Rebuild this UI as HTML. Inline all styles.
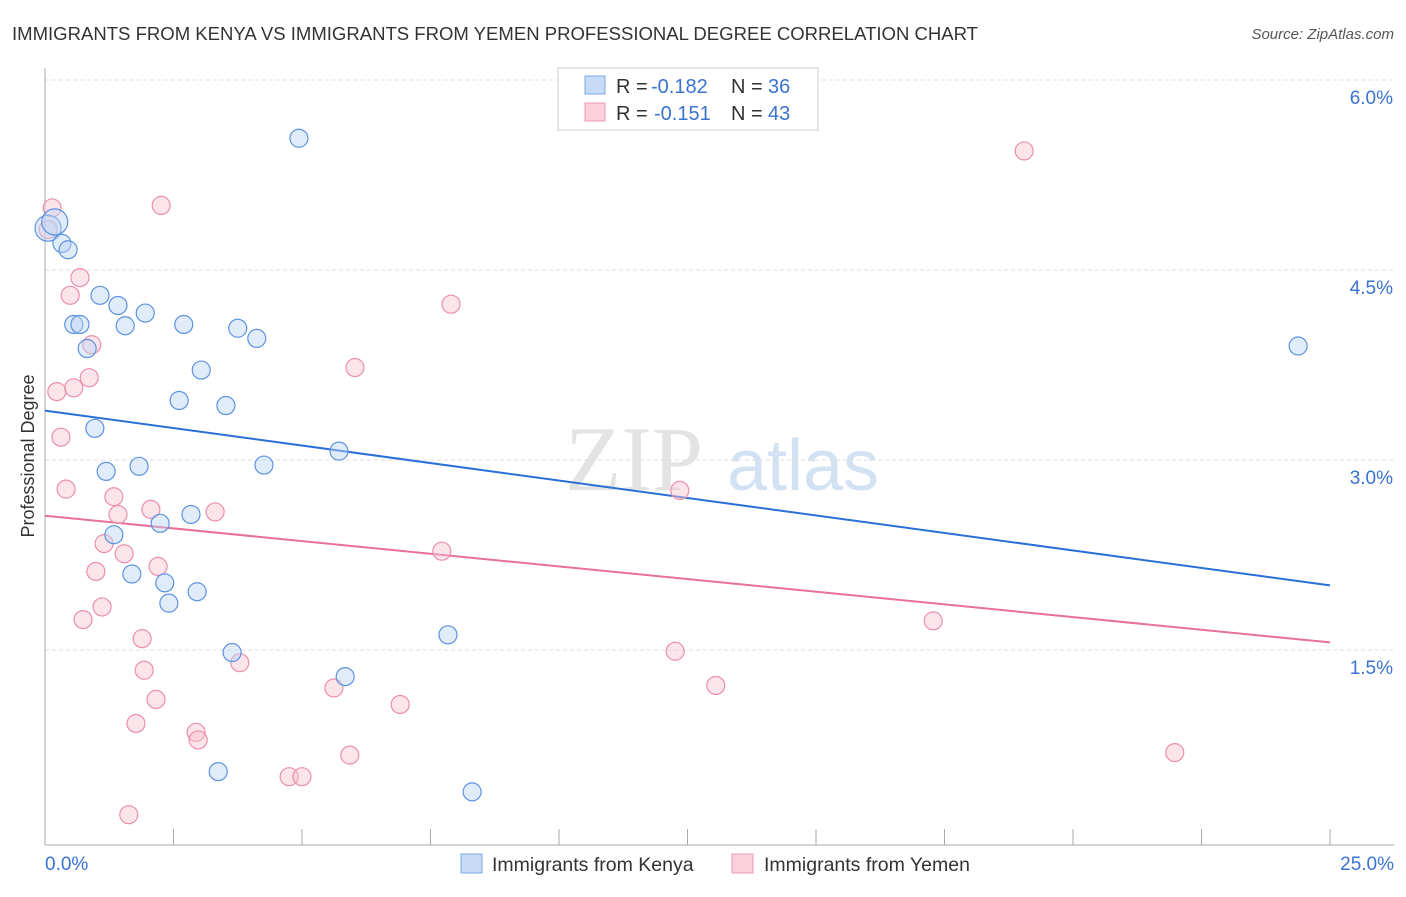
<!DOCTYPE html>
<html><head><meta charset="utf-8"><style>
body{margin:0;background:#fff;font-family:"Liberation Sans",sans-serif;}
</style></head><body>
<svg width="1406" height="892" xmlns="http://www.w3.org/2000/svg" font-family="Liberation Sans, sans-serif">
<text x="12" y="40" font-size="18" fill="#333" textLength="966" lengthAdjust="spacingAndGlyphs">IMMIGRANTS FROM KENYA VS IMMIGRANTS FROM YEMEN PROFESSIONAL DEGREE CORRELATION CHART</text>
<text x="1394" y="39" font-size="15" fill="#555" font-style="italic" text-anchor="end">Source: ZipAtlas.com</text>
<g>
<text x="634" y="490" font-size="92" fill="#ddd" font-family="Liberation Serif, serif" text-anchor="middle" opacity="0.8">ZIP</text>
<text x="803" y="490" font-size="72" fill="#c9dbf0" text-anchor="middle" opacity="0.8">atlas</text>
</g>
<g id="grid"></g>
<line x1="45" y1="68" x2="45" y2="845" stroke="#aaa" stroke-width="1"/>
<line x1="45" y1="845" x2="1394" y2="845" stroke="#aaa" stroke-width="1"/>
<g id="ticks"></g>
<text transform="translate(34,456) rotate(-90)" font-size="18" fill="#333" text-anchor="middle">Professional Degree</text>
<text x="45" y="870" font-size="19" fill="#3a73d0">0.0%</text>
<text x="1394" y="870" font-size="19" fill="#3a73d0" text-anchor="end">25.0%</text>
<g id="trend"></g>
<g id="points"></g>
<g>
<rect x="558" y="68" width="260" height="62" fill="#fff" stroke="#ccc"/>
<rect x="585" y="76" width="20" height="18" fill="#c7dbf7" stroke="#7ba7e6"/>
<rect x="585" y="103" width="20" height="18" fill="#fbd0dc" stroke="#ef9ab3"/>
<text x="616" y="93" font-size="20" fill="#333">R =</text>
<text x="651" y="93" font-size="20" fill="#3a73d0">-0.182</text>
<text x="731" y="93" font-size="20" fill="#333">N =</text>
<text x="768" y="93" font-size="20" fill="#3a73d0">36</text>
<text x="616" y="120" font-size="20" fill="#333">R =</text>
<text x="654" y="120" font-size="20" fill="#3a73d0">-0.151</text>
<text x="731" y="120" font-size="20" fill="#333">N =</text>
<text x="768" y="120" font-size="20" fill="#3a73d0">43</text>
</g>
<g>
<rect x="461" y="854" width="21" height="19" fill="#c7dbf7" stroke="#7ba7e6"/>
<text x="492" y="871" font-size="19.5" fill="#333">Immigrants from Kenya</text>
<rect x="732" y="854" width="21" height="19" fill="#fbd0dc" stroke="#ef9ab3"/>
<text x="764" y="871" font-size="19.5" fill="#333">Immigrants from Yemen</text>
</g>
</svg>
<script>
const yTicks=[1.5,3.0,4.5,6.0];
const yTickLabels=["1.5%","3.0%","4.5%","6.0%"];
const xTicks=[0,2.5,5,7.5,10,12.5,15,17.5,20,22.5,25];
const kenyaX=[0.06,0.19,0.33,0.45,4.94,1.07,1.42,1.95,0.56,0.68,1.56,2.70,3.75,4.12,0.82,3.04,2.61,3.52,0.97,24.38,1.19,1.83,4.26,5.72,2.84,2.24,1.34,1.69,2.33,2.41,2.96,7.84,3.64,5.84,3.37,8.31];
const kenyaY=[4.83,4.88,4.71,4.66,5.54,4.30,4.22,4.16,4.07,4.07,4.06,4.07,4.04,3.96,3.88,3.71,3.47,3.43,3.25,3.90,2.91,2.95,2.96,3.07,2.57,2.50,2.41,2.10,2.03,1.87,1.96,1.62,1.48,1.29,0.54,0.38];
const yemenX=[0.14,0.06,2.26,0.68,0.49,19.05,7.90,0.91,0.86,6.03,0.23,0.56,0.31,0.41,1.34,12.35,1.42,2.06,3.31,1.15,1.54,7.72,2.20,0.99,1.11,0.74,1.89,17.28,1.93,12.26,3.79,5.62,13.05,2.16,6.91,1.77,2.94,2.98,5.93,4.75,5.00,21.98,1.63];
const yemenY=[4.99,4.82,5.01,4.44,4.30,5.44,4.23,3.91,3.65,3.73,3.54,3.57,3.18,2.77,2.71,2.76,2.57,2.61,2.59,2.34,2.26,2.28,2.16,2.12,1.84,1.74,1.59,1.73,1.34,1.49,1.40,1.20,1.22,1.11,1.07,0.92,0.85,0.79,0.67,0.50,0.50,0.69,0.20];
const kenyaTrend=[3.39,2.01];
const yemenTrend=[2.56,1.56];
const NS="http://www.w3.org/2000/svg";
const sx=v=>45+v*(1285/25);
const sy=v=>840-v*(190/1.5);
function mk(tag,attrs,parent){const e=document.createElementNS(NS,tag);for(const k in attrs)e.setAttribute(k,attrs[k]);document.getElementById(parent).appendChild(e);return e;}
yTicks.forEach((t,i)=>{
 const l=mk('line',{x1:45,x2:1394,y1:sy(t),y2:sy(t),stroke:'#ddd','stroke-dasharray':'4,3'},'grid');
 
 
 const tx=mk('text',{x:1393,y:sy(t)+24,'font-size':19,fill:'#3a73d0','text-anchor':'end'},'grid');
 tx.textContent=yTickLabels[i];
 
 
});
xTicks.forEach(t=>{
 const l=mk('line',{x1:sx(t),x2:sx(t),y1:829,y2:845,stroke:'#aaa'},'ticks');
 
 
});
function drawPts(xs,ys,fill,stroke,name){
 xs.forEach((x,i)=>{
  const c=mk('circle',{cx:sx(x),cy:sy(ys[i]),r:(i<2&&name==='kenya-point')?13:9,fill:fill,'fill-opacity':0.45,stroke:stroke,'stroke-width':1.2},'points');
  
  
 });
}
drawPts(yemenX,yemenY,'#f9c3d3','#eb8fab','yemen-point');
drawPts(kenyaX,kenyaY,'#bcd4f5','#5b93e0','kenya-point');
const t1=mk('line',{x1:sx(0),y1:sy(kenyaTrend[0]),x2:sx(25),y2:sy(kenyaTrend[1]),stroke:'#2a6fd6','stroke-width':2},'trend');


const t2=mk('line',{x1:sx(0),y1:sy(yemenTrend[0]),x2:sx(25),y2:sy(yemenTrend[1]),stroke:'#e8709a','stroke-width':2},'trend');


</script>
</body></html>
